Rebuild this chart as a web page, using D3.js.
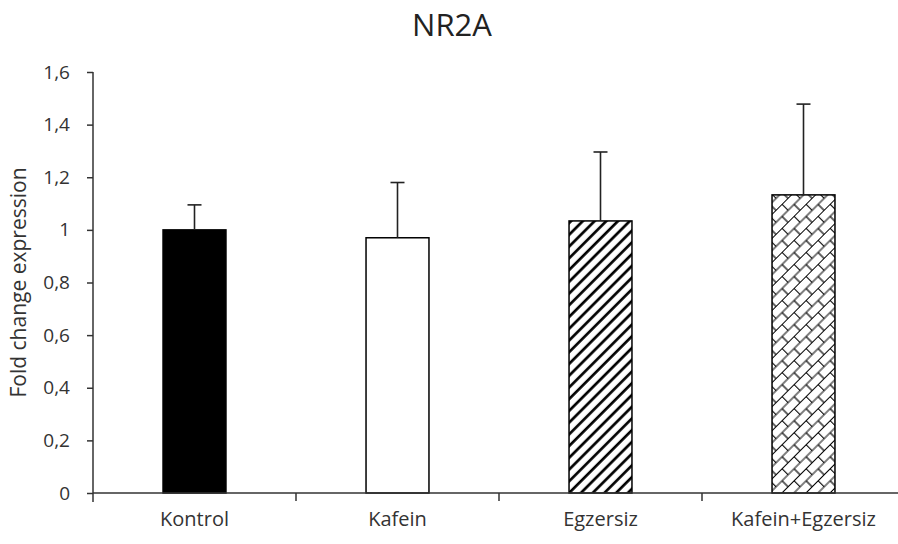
<!DOCTYPE html>
<html>
<head>
<meta charset="utf-8">
<script src="https://cdn.jsdelivr.net/npm/d3@7"></script>
<style>
  body { margin: 0; background: #fff; }
  text { font-family: "Open Sans", sans-serif; }
</style>
</head>
<body>
<div id="chart"></div>
<script>
// data
const categories = ["Kontrol", "Kafein", "Egzersiz", "Kafein+Egzersiz"]
const means = [1.0, 0.97, 1.034, 1.133]
const errors = [0.095, 0.21, 0.262, 0.345]
const fills = ["solid", "white", "stripes", "bricks"]
const yTicks = [0, 0.2, 0.4, 0.6, 0.8, 1, 1.2, 1.4, 1.6]
const yTickLabels = ["0", "0,2", "0,4", "0,6", "0,8", "1", "1,2", "1,4", "1,6"]

const width = 898, height = 544
const margin = { top: 72, right: -7, bottom: 51, left: 93 }

const svg = d3.select("#chart").append("svg")
  .attr("width", width)
  .attr("height", height)

// fill patterns
const defs = svg.append("defs")
defs.append("pattern")
  .attr("id", "stripes")
  .attr("patternUnits", "userSpaceOnUse")
  .attr("width", 8.3).attr("height", 8.3)
  .attr("patternTransform", "rotate(45)")
  .append("line")
  .attr("x1", 4).attr("y1", 0).attr("x2", 4).attr("y2", 8.3)
  .attr("stroke", "#000").attr("stroke-width", 2.7)

const bh = 8.5
const brick = defs.append("pattern")
  .attr("id", "bricks")
  .attr("patternUnits", "userSpaceOnUse")
  .attr("width", bh * 2).attr("height", bh * 2)
  .attr("patternTransform", "rotate(-45)")
brick.append("path")
  .attr("d", `M0,0.5H${bh*2} M0,${bh+0.5}H${bh*2} M0.5,0.5V${bh+0.5} M${bh+0.5},${bh+0.5}V${bh*2+0.5}`)
  .attr("stroke", "#000").attr("stroke-width", 1.2).attr("fill", "none")

const x = d3.scaleBand()
  .domain(categories)
  .range([margin.left, width - margin.right])
  .paddingInner(0.69)
  .paddingOuter(0.345)

const y = d3.scaleLinear()
  .domain([0, 1.6])
  .range([height - margin.bottom, margin.top])

const fillOf = f => f == "solid" ? "#000" : f == "white" ? "#fff" : `url(#${f})`

// bars
svg.selectAll(".bar").data(categories).enter().append("rect")
  .attr("class", "bar")
  .attr("x", d => x(d))
  .attr("y", (d, i) => y(means[i]))
  .attr("width", x.bandwidth())
  .attr("height", (d, i) => y(0) - y(means[i]))
  .attr("fill", (d, i) => fillOf(fills[i]))
  .attr("stroke", "#000")
  .attr("stroke-width", 1.5)

// error bars, upper only
const capW = 14
const err = svg.selectAll(".err").data(categories).enter().append("g")
  .attr("class", "err")
  .attr("stroke", "#222")
  .attr("stroke-width", 1.6)
err.append("line")
  .attr("x1", d => x(d) + x.bandwidth() / 2)
  .attr("x2", d => x(d) + x.bandwidth() / 2)
  .attr("y1", (d, i) => y(means[i]))
  .attr("y2", (d, i) => y(means[i] + errors[i]))
err.append("line")
  .attr("x1", d => x(d) + x.bandwidth() / 2 - capW / 2)
  .attr("x2", d => x(d) + x.bandwidth() / 2 + capW / 2)
  .attr("y1", (d, i) => y(means[i] + errors[i]))
  .attr("y2", (d, i) => y(means[i] + errors[i]))

// y axis
const yAxis = svg.append("g")
  .attr("transform", `translate(${margin.left},0)`)
  .call(d3.axisLeft(y).tickValues(yTicks).tickSize(6).tickPadding(17)
    .tickFormat((d, i) => yTickLabels[i]))
yAxis.select(".domain").remove()
yAxis.append("line")
  .attr("y1", y(1.6)).attr("y2", y(0) + 9)
  .attr("stroke", "#333").attr("stroke-width", 1.5)
yAxis.selectAll(".tick line").attr("stroke", "#333").attr("stroke-width", 1.5)
yAxis.selectAll(".tick text")
  .attr("fill", "#333")
  .style("font-size", "19px")

// x axis
const xAxis = svg.append("g")
  .attr("transform", `translate(0,${y(0)})`)
  .call(d3.axisBottom(x).tickSize(0).tickPadding(19))
xAxis.select(".domain").remove()
xAxis.append("line")
  .attr("x1", margin.left).attr("x2", width)
  .attr("stroke", "#333").attr("stroke-width", 1.5)
xAxis.selectAll(".tick text")
  .attr("fill", "#333")
  .style("font-size", "20px")

// category boundary ticks
const step = x.step()
xAxis.selectAll(".sep").data(categories.slice(1)).enter().append("line")
  .attr("class", "sep")
  .attr("x1", d => x(d) - step * x.paddingInner() / 2)
  .attr("x2", d => x(d) - step * x.paddingInner() / 2)
  .attr("y1", 0).attr("y2", 8)
  .attr("stroke", "#333").attr("stroke-width", 1.5)

// y axis title
svg.append("text")
  .attr("transform", `translate(26,${(y(0) + y(1.6)) / 2}) rotate(-90)`)
  .attr("text-anchor", "middle")
  .attr("fill", "#333")
  .style("font-size", "21px")
  .text("Fold change expression")

// title
svg.append("text")
  .attr("x", 452)
  .attr("y", 36)
  .attr("text-anchor", "middle")
  .attr("fill", "#222")
  .style("font-size", "31px")
  .text("NR2A")
</script>
</body>
</html>
